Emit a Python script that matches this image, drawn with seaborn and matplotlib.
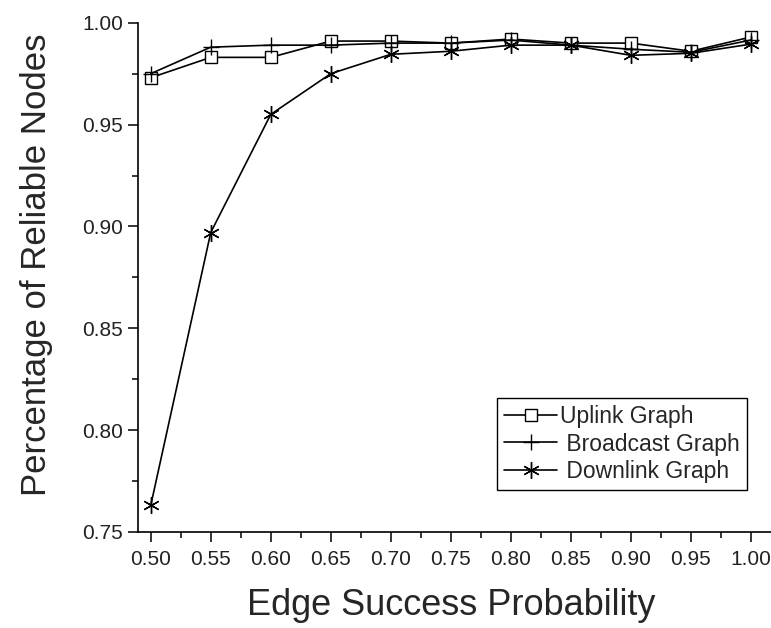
import matplotlib
matplotlib.use("Agg")
import matplotlib.pyplot as plt
import seaborn as sns
import pandas as pd
from matplotlib.ticker import MultipleLocator, FormatStrFormatter

# values
prob = [0.50, 0.55, 0.60, 0.65, 0.70, 0.75, 0.80, 0.85, 0.90, 0.95, 1.00]
uplink = [0.973, 0.983, 0.983, 0.991, 0.991, 0.990, 0.992, 0.990, 0.990, 0.986, 0.993]
broadcast = [0.975, 0.988, 0.989, 0.989, 0.990, 0.990, 0.9915, 0.989, 0.987, 0.9855, 0.9915]
downlink = [0.763, 0.897, 0.955, 0.975, 0.9845, 0.986, 0.989, 0.989, 0.984, 0.985, 0.9895]

labels = ["Uplink Graph", " Broadcast Graph", " Downlink Graph"]

df = pd.DataFrame({"prob": prob, "up": uplink, "bc": broadcast, "down": downlink})

sns.set_style("ticks")
plt.rcParams["font.family"] = ["Liberation Sans", "DejaVu Sans"]

fig = plt.figure(figsize=(7.71, 6.28), dpi=100)
ax = fig.add_axes([0.1796, 0.1529, 0.8204, 0.8109])

sns.lineplot(data=df, x="prob", y="up", ax=ax, color="black", lw=1.2,
             marker="s", ms=8, mfc="white", mec="black", mew=1.0,
             label=labels[0], clip_on=False, zorder=3)
sns.lineplot(data=df, x="prob", y="bc", ax=ax, color="black", lw=1.2,
             marker="+", ms=12, mec="black", mew=1.0,
             label=labels[1], clip_on=False, zorder=4)
sns.lineplot(data=df, x="prob", y="down", ax=ax, color="black", lw=1.2,
             marker=(6, 2, 0), ms=12, mec="black", mew=1.0,
             label=labels[2], clip_on=False, zorder=5)

ax.set_xlim(0.4898, 1.0167)
ax.set_ylim(0.75, 1.00)
ax.xaxis.set_major_locator(MultipleLocator(0.05))
ax.xaxis.set_minor_locator(MultipleLocator(0.025))
ax.yaxis.set_major_locator(MultipleLocator(0.05))
ax.yaxis.set_minor_locator(MultipleLocator(0.025))
ax.xaxis.set_major_formatter(FormatStrFormatter("%.2f"))
ax.yaxis.set_major_formatter(FormatStrFormatter("%.2f"))

ax.tick_params(which="major", direction="out", length=7, width=1.1,
               labelsize=15, labelcolor="#222222", color="black")
ax.tick_params(which="minor", direction="out", length=4, width=1.1, color="black")
ax.tick_params(axis="x", pad=6)
ax.tick_params(axis="y", pad=4)

for s in ["top", "right"]:
    ax.spines[s].set_visible(False)
for s in ["left", "bottom"]:
    ax.spines[s].set_linewidth(1.2)
    ax.spines[s].set_color("black")

ax.set_xlabel("Edge Success Probability", fontsize=26)
ax.set_ylabel("Percentage of Reliable Nodes", fontsize=25)
ax.xaxis.set_label_coords(0.494, -0.11)
ax.yaxis.set_label_coords(-0.135, 0.524)

leg = ax.legend(loc="lower right", bbox_to_anchor=(0.962, 0.0825),
                borderaxespad=0, fancybox=False, framealpha=1,
                edgecolor="black", fontsize=16.5, handlelength=2.3,
                handletextpad=0.15, labelspacing=0.2, borderpad=0.3)
leg.get_frame().set_linewidth(1.0)

fig.savefig("out.png", dpi=100)
